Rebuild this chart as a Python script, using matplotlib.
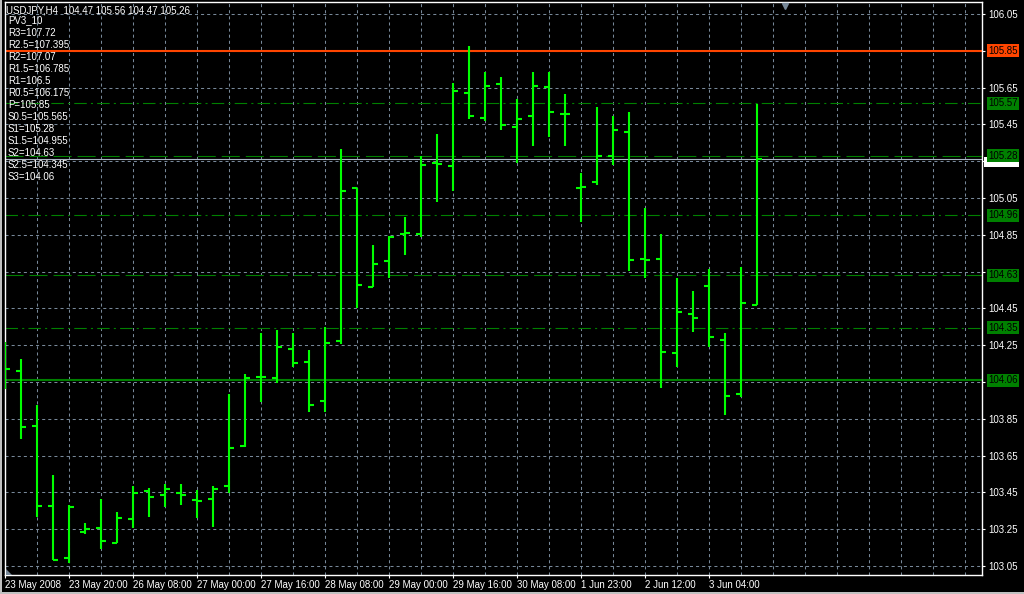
import matplotlib
matplotlib.use("Agg")
import matplotlib.pyplot as plt
import numpy as np
from matplotlib.patches import Rectangle, Polygon

# datos de las velas (USDJPY H4)
aperturas = [104.13, 104.111, 103.811, 103.376, 103.093, 103.236, 103.257, 103.177, 103.307, 103.459,
             103.438, 103.447, 103.409, 103.414, 103.486, 103.702, 104.079, 104.07, 104.231, 104.16,
             103.947, 104.274, 105.103, 104.568, 104.709, 104.856, 104.856, 105.242, 105.224, 105.622,
             105.485, 105.671, 105.437, 105.496, 105.653, 105.508, 105.106, 105.137, 105.278, 105.41,
             104.718, 104.718, 104.209, 104.421, 104.573, 104.28, 103.985, 104.47]
maximos = [104.267, 104.173, 103.923, 103.543, 103.38, 103.282, 103.412, 103.343, 103.485, 103.474,
           103.494, 103.494, 103.461, 103.485, 103.985, 104.093, 104.318, 104.333, 104.318, 104.224,
           104.347, 105.316, 105.103, 104.795, 104.843, 104.947, 105.28, 105.398, 105.673, 105.876,
           105.735, 105.708, 105.586, 105.735, 105.735, 105.615, 105.184, 105.545, 105.496, 105.517,
           104.994, 104.854, 104.615, 104.545, 104.664, 104.316, 104.675, 105.56]
minimos = [104.014, 103.742, 103.318, 103.083, 103.068, 103.222, 103.141, 103.173, 103.257, 103.315,
           103.372, 103.38, 103.311, 103.26, 103.445, 103.695, 103.943, 104.043, 104.133, 103.889,
           103.885, 104.255, 104.454, 104.568, 104.614, 104.742, 104.836, 105.027, 105.088, 105.481,
           105.47, 105.421, 105.242, 105.334, 105.383, 105.334, 104.921, 105.122, 105.229, 104.652,
           104.614, 104.019, 104.133, 104.323, 104.242, 103.871, 103.97, 104.47]
cierres = [104.12, 103.805, 103.376, 103.083, 103.371, 103.251, 103.188, 103.311, 103.447, 103.427,
           103.47, 103.438, 103.405, 103.468, 103.691, 104.073, 104.079, 104.242, 104.155, 103.925,
           104.264, 105.09, 104.579, 104.693, 104.84, 104.862, 105.231, 105.236, 105.632, 105.496,
           105.659, 105.448, 105.481, 105.66, 105.519, 105.508, 105.112, 105.278, 105.421, 104.715,
           104.715, 104.213, 104.43, 104.399, 104.296, 103.974, 104.479, 105.26]

etiquetas_tiempo = ["23 May 2008", "23 May 20:00", "26 May 08:00", "27 May 00:00", "27 May 16:00",
                    "28 May 08:00", "29 May 00:00", "29 May 16:00", "30 May 08:00", "1 Jun 23:00",
                    "2 Jun 12:00", "3 Jun 04:00"]

encabezado = "USDJPY,H4  104.47 105.56 104.47 105.26"
indicador = "PV3_10"
niveles_texto = ["R3=107.72", "R2.5=107.395", "R2=107.07", "R1.5=106.785", "R1=106.5", "R0.5=106.175",
                 "P=105.85", "S0.5=105.565", "S1=105.28", "S1.5=104.955", "S2=104.63", "S2.5=104.345",
                 "S3=104.06"]

# lineas horizontales visibles
nivel_naranja = 105.85
niveles_verdes = [105.565, 105.28, 104.955, 104.63, 104.345, 104.06]
etiquetas_verdes = ["105.57", "105.28", "104.96", "104.63", "104.35", "104.06"]
estilos_verdes = ["dashdot", "dashed", "dashdot", "dashed", "dashdot", "solid"]
precio_bid = 105.26

precios_eje = np.round(np.arange(103.05, 106.06, 0.2), 2)
# precios del eje que quedan tapados por las etiquetas de color
precios_tapados = [105.85, 105.25, 104.65, 104.05]

plt.rcParams["font.family"] = ["Liberation Sans", "DejaVu Sans"]
plt.rcParams["lines.scale_dashes"] = False

BLANCO = "white"
GRILLA = "#778899"
VERDE = "#008000"
LIMA = "#00ff00"
NARANJA = "#ff4500"
FS = 7

fig = plt.figure(figsize=(10.24, 5.94), dpi=100, facecolor="black")
W, H = 1024.0, 594.0
ax = fig.add_axes([5 / W, 19 / H, 977 / W, 573 / H], facecolor="black")

n = len(aperturas)
idx = np.arange(n)
ax.set_xlim(0, 61.06)
ax.set_ylim(103.001, 106.115)

# grilla
ax.vlines(np.arange(2, 61, 2), 103.0, 106.2, colors=GRILLA, linewidth=0.75,
          linestyles=[(0, (2.2, 2.2))], zorder=1)
ax.hlines(precios_eje, 0, 62, colors=GRILLA, linewidth=0.75,
          linestyles=[(0, (2.2, 2.2))], zorder=1)

# lineas del indicador
estilos = {"dashdot": (0, (9, 3, 1.5, 3)), "dashed": (0, (13, 4.3)), "solid": "solid"}
for nivel, est in zip(niveles_verdes, estilos_verdes):
    ax.axhline(nivel, color=VERDE, linewidth=1.5 if est == "solid" else 0.8,
               linestyle=estilos[est], zorder=2)
ax.axhline(nivel_naranja, color=NARANJA, linewidth=1.5, zorder=2)
ax.axhline(precio_bid, color="#a9b4c2", linewidth=0.8, zorder=2)

# barras OHLC
ax.vlines(idx, minimos, maximos, colors=LIMA, linewidth=1.5, zorder=4)
ax.hlines(aperturas, idx - 0.31, idx, colors=LIMA, linewidth=1.5, zorder=4)
ax.hlines(cierres, idx, idx + 0.31, colors=LIMA, linewidth=1.5, zorder=4)

# ejes
for lado in ["left", "right", "top", "bottom"]:
    ax.spines[lado].set_color(BLANCO)
    ax.spines[lado].set_linewidth(1)
ax.yaxis.tick_right()
ax.set_yticks(precios_eje)
ax.set_yticklabels(["" if p in precios_tapados else "%.2f" % p for p in precios_eje])
ax.set_xticks(np.arange(0, 4 * len(etiquetas_tiempo), 4))
ax.set_xticklabels(etiquetas_tiempo, ha="left")
ax.tick_params(colors=BLANCO, labelcolor=BLANCO, labelsize=FS, length=2.2, width=0.8, pad=2)
ax.tick_params(axis="x", pad=1.5)

# etiquetas de precio en el eje derecho
trans = ax.get_yaxis_transform()
x_etq = 1 + 6 / 977
# caja blanca del bid, casi tapada por la etiqueta verde
ax.add_patch(Rectangle((1 + 2 / 977, precio_bid - 8 / 184), 35 / 977, 10 / 184, transform=trans,
                       fc=BLANCO, ec="none", clip_on=False, zorder=6))
for nivel, etq in zip(niveles_verdes, etiquetas_verdes):
    ax.text(x_etq, nivel, etq, transform=trans, fontsize=FS, color="black", va="center",
            ha="left", clip_on=False, zorder=7,
            bbox=dict(boxstyle="square,pad=0.15", fc=VERDE, ec="none"))
ax.text(x_etq, nivel_naranja, "%.2f" % nivel_naranja, transform=trans, fontsize=FS,
        color="black", va="center", ha="left", clip_on=False, zorder=7,
        bbox=dict(boxstyle="square,pad=0.15", fc=NARANJA, ec="none"))

# marcadores grises
ax.plot([(785 - 5) / 977], [1 - 4 / 573], marker="v", markersize=5, color=GRILLA,
        transform=ax.transAxes, clip_on=False, zorder=5)
fig.patches.append(Polygon([[6 / W, 1 - 575 / H], [12 / W, 1 - 575 / H], [6 / W, 1 - 569 / H]],
                           closed=True, fc=GRILLA, ec="none", transform=fig.transFigure))

# textos de la esquina superior
fig.text(6 / W, 1 - 10.7 / H, encabezado, color=BLANCO, fontsize=FS, va="center", ha="left")
fig.text(8 / W, 1 - 20.5 / H, indicador, color=BLANCO, fontsize=FS, va="center", ha="left")
for k, t in enumerate(niveles_texto):
    fig.text(8 / W, 1 - (32.6 + 12 * k) / H, t, color=BLANCO, fontsize=FS, va="center", ha="left")

# borde de la ventana
fig.patches.append(Rectangle((0, 0), 2 / W, 1, transform=fig.transFigure, fc="#c0c0c0", ec="none"))
fig.patches.append(Rectangle((0, 0), 1, 2 / H, transform=fig.transFigure, fc="#c0c0c0", ec="none"))

fig.savefig("out.png", dpi=100, facecolor="black")
